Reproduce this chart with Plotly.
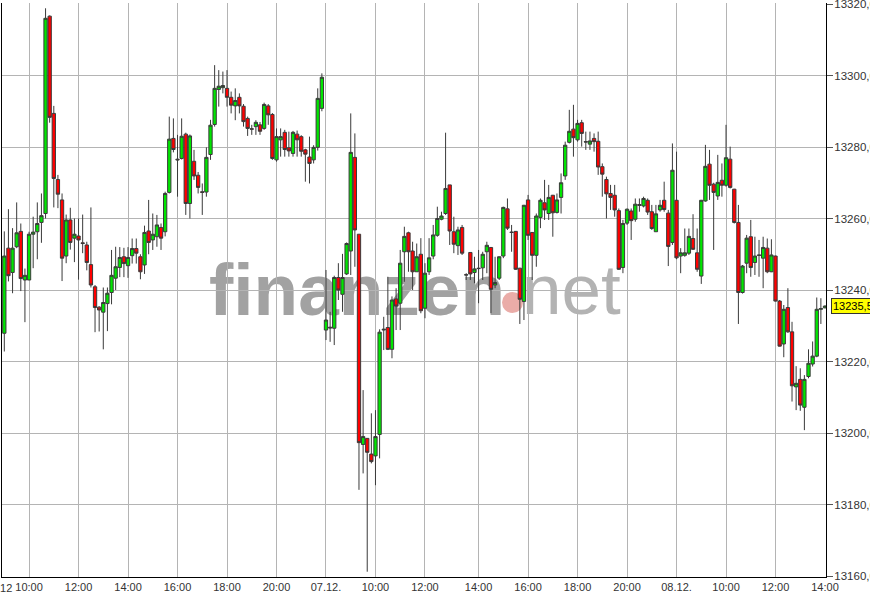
import plotly.graph_objects as go

# ---------------- data (10-minute candles, 06.12. 09:00 -> 08.12. 14:00) ----------------
opens = [
    13227.9, 13251.7, 13244.9, 13252.1, 13256.4, 13242.8, 13242.8, 13255.6, 13256.3, 13258.9,
    13261.4, 13316.6, 13289.4, 13270.9, 13265.2, 13249.5, 13259.6, 13254.5, 13255.1, 13253.2,
    13252.6, 13247.1, 13240.9, 13235.2, 13233.8, 13236.2, 13239.3, 13243.3, 13246.3, 13249.3,
    13246.8, 13249.6, 13251.6, 13249.3, 13247.0, 13256.5, 13254.0, 13254.9, 13257.5, 13256.3,
    13267.3, 13282.4, 13276.6, 13276.8, 13283.6, 13264.2, 13276.0, 13272.1, 13267.5, 13267.4,
    13277.9, 13286.3, 13296.1, 13296.6, 13296.4, 13293.9, 13291.5, 13293.9, 13291.4, 13288.0,
    13285.1, 13285.7, 13286.2, 13285.2, 13291.5, 13289.1, 13276.4, 13282.0, 13284.1, 13279.8,
    13278.2, 13283.6, 13282.9, 13279.2, 13277.2, 13276.4, 13279.9, 13290.8,
    13228.8, 13229.6, 13229.3, 13243.5, 13238.8, 13244.5, 13250.9, 13277.1, 13255.6, 13196.8,
    13198.5, 13194.1, 13193.6, 13199.6, 13228.8, 13229.5, 13223.4, 13237.5, 13236.3, 13250.7,
    13256.0, 13250.9, 13245.1, 13250.0, 13234.9, 13245.1, 13249.5, 13255.3, 13259.8, 13261.4,
    13269.4, 13256.3, 13252.4, 13257.5, 13244.3, 13250.5, 13244.9, 13246.1, 13246.2, 13250.7,
    13251.9, 13241.4, 13243.3, 13249.5, 13262.7, 13256.2, 13256.4, 13246.1, 13236.8, 13265.2,
    13256.1, 13249.7, 13260.3, 13264.4, 13261.4, 13266.5, 13261.7, 13265.9, 13271.9, 13281.3,
    13285.0, 13282.0, 13286.8, 13281.5, 13280.8, 13282.4, 13281.6, 13274.5, 13270.9, 13267.0,
    13266.5, 13262.2, 13246.3, 13258.7, 13262.1, 13259.8, 13263.9, 13263.5, 13265.1, 13261.9,
    13256.3, 13262.4, 13265.1, 13261.5,
    13253.3, 13265.1, 13249.5, 13249.7, 13250.3, 13254.4, 13250.4, 13243.9, 13264.9, 13275.2,
    13269.6, 13266.3, 13270.7, 13269.3, 13276.6, 13268.2, 13258.9, 13239.3, 13247.5, 13254.9,
    13247.7, 13249.8, 13248.9, 13251.7, 13245.1, 13249.5, 13236.9, 13224.9, 13235.1, 13228.3,
    13212.9, 13215.0, 13207.2, 13215.8, 13219.3, 13221.5, 13234.6, 13235.0,
]
highs = [
    13256.4, 13262.6, 13257.3, 13264.5, 13258.6, 13246.0, 13256.3, 13260.5, 13264.5, 13267.0,
    13318.8, 13316.8, 13291.5, 13272.2, 13267.0, 13261.1, 13263.0, 13260.0, 13260.0, 13261.1,
    13253.5, 13263.1, 13241.4, 13235.5, 13240.7, 13240.7, 13251.2, 13252.1, 13252.0, 13251.8,
    13252.0, 13254.4, 13254.4, 13250.0, 13258.0, 13265.2, 13261.4, 13261.0, 13258.6, 13267.5,
    13288.5, 13288.0, 13283.4, 13288.0, 13284.0, 13283.5, 13279.2, 13273.0, 13269.8, 13279.9,
    13287.6, 13302.9, 13301.5, 13301.1, 13301.5, 13295.5, 13296.4, 13295.0, 13292.0, 13288.5,
    13286.2, 13287.5, 13287.0, 13292.4, 13292.0, 13289.5, 13285.2, 13285.2, 13284.8, 13284.3,
    13284.5, 13284.6, 13283.3, 13279.5, 13282.9, 13280.5, 13296.4, 13300.6,
    13245.6, 13233.9, 13244.0, 13247.5, 13250.1, 13253.3, 13289.4, 13283.8, 13255.6, 13212.0,
    13198.5, 13205.5, 13206.4, 13229.0, 13232.5, 13243.7, 13238.2, 13240.5, 13251.2, 13257.7,
    13256.3, 13253.5, 13253.0, 13254.5, 13247.5, 13254.5, 13258.2, 13263.3, 13261.9, 13284.0,
    13269.4, 13260.5, 13257.7, 13258.2, 13244.7, 13250.6, 13249.3, 13251.2, 13250.7, 13253.5,
    13252.0, 13249.3, 13249.4, 13263.3, 13265.6, 13258.2, 13256.5, 13246.2, 13263.8, 13266.6,
    13256.2, 13261.4, 13265.6, 13270.8, 13269.4, 13266.6, 13267.0, 13272.6, 13281.5, 13290.4,
    13291.8, 13287.6, 13287.6, 13284.3, 13284.3, 13283.8, 13284.3, 13275.4, 13271.7, 13269.4,
    13269.4, 13262.8, 13259.6, 13262.8, 13262.8, 13265.6, 13265.6, 13266.1, 13265.6, 13263.8,
    13263.8, 13265.2, 13270.3, 13262.4,
    13281.0, 13278.7, 13251.7, 13257.2, 13257.2, 13261.2, 13257.2, 13265.2, 13280.6, 13279.2,
    13270.0, 13277.8, 13275.4, 13286.2, 13280.1, 13268.3, 13263.8, 13247.0, 13255.4, 13259.6,
    13254.9, 13254.0, 13254.9, 13254.4, 13254.2, 13249.6, 13237.2, 13235.8, 13240.5, 13231.1,
    13218.7, 13218.1, 13216.2, 13223.4, 13225.6, 13237.9, 13237.7, 13235.7,
]
lows = [
    13222.8, 13242.4, 13239.1, 13251.7, 13239.7, 13231.0, 13242.8, 13246.1, 13248.6, 13253.2,
    13260.0, 13286.8, 13263.1, 13262.9, 13242.5, 13247.5, 13251.3, 13247.8, 13242.9, 13250.3,
    13245.5, 13240.7, 13228.2, 13228.4, 13223.4, 13228.5, 13236.0, 13240.0, 13243.6, 13243.6,
    13243.4, 13247.4, 13247.4, 13243.0, 13244.5, 13250.0, 13251.2, 13252.1, 13251.2, 13255.0,
    13267.0, 13278.5, 13266.1, 13276.5, 13261.0, 13260.0, 13270.8, 13267.0, 13261.0, 13266.1,
    13276.4, 13285.7, 13291.3, 13295.0, 13291.3, 13289.4, 13287.5, 13289.4, 13285.7, 13283.1,
    13283.4, 13283.4, 13283.4, 13284.8, 13286.2, 13276.4, 13275.9, 13277.3, 13277.3, 13277.3,
    13277.3, 13277.3, 13277.3, 13270.3, 13269.8, 13275.4, 13279.0, 13290.0,
    13226.0, 13225.5, 13224.6, 13237.2, 13233.9, 13244.2, 13244.2, 13246.5, 13184.1, 13188.7,
    13161.2, 13191.5, 13185.4, 13192.9, 13223.2, 13223.2, 13220.9, 13228.8, 13228.8, 13242.3,
    13245.1, 13240.0, 13245.1, 13233.5, 13232.1, 13244.2, 13248.6, 13254.9, 13259.5, 13261.0,
    13252.6, 13250.3, 13249.8, 13249.8, 13242.8, 13242.8, 13241.9, 13236.3, 13242.8, 13244.7,
    13233.5, 13240.5, 13242.8, 13248.9, 13256.8, 13250.7, 13245.6, 13230.5, 13231.6, 13254.0,
    13242.8, 13246.5, 13257.3, 13259.6, 13259.6, 13254.9, 13261.4, 13261.4, 13270.8, 13281.0,
    13277.3, 13281.5, 13280.1, 13279.2, 13279.2, 13278.7, 13272.2, 13266.1, 13260.0, 13262.4,
    13260.5, 13245.6, 13244.7, 13258.2, 13254.0, 13259.1, 13261.9, 13263.1, 13261.0, 13256.8,
    13256.3, 13261.9, 13261.9, 13246.7,
    13252.6, 13248.6, 13244.7, 13249.3, 13249.8, 13251.2, 13245.1, 13241.7, 13264.7, 13265.2,
    13251.2, 13265.2, 13266.1, 13268.9, 13268.4, 13258.6, 13230.5, 13239.0, 13244.7, 13243.7,
    13244.2, 13243.7, 13240.5, 13244.7, 13245.0, 13236.8, 13224.2, 13221.2, 13228.0, 13208.8,
    13206.4, 13206.2, 13200.8, 13215.3, 13218.6, 13221.2, 13230.5, 13234.9,
]
closes = [
    13249.5, 13244.0, 13251.7, 13256.0, 13243.2, 13244.1, 13255.6, 13256.2, 13258.6, 13260.8,
    13316.0, 13288.3, 13271.2, 13266.8, 13248.9, 13259.6, 13253.3, 13255.6, 13254.0, 13253.0,
    13247.7, 13241.4, 13235.1, 13234.4, 13236.5, 13239.1, 13244.1, 13246.5, 13249.1, 13247.4,
    13249.1, 13251.6, 13250.3, 13245.1, 13256.1, 13253.3, 13255.6, 13258.2, 13254.5, 13267.0,
    13282.2, 13279.3, 13276.4, 13283.0, 13264.2, 13283.1, 13271.9, 13268.7, 13267.3, 13277.1,
    13286.1, 13296.4, 13297.0, 13297.2, 13293.9, 13291.7, 13293.0, 13291.5, 13287.1, 13285.2,
    13285.0, 13286.9, 13284.4, 13291.9, 13289.0, 13276.8, 13282.9, 13282.9, 13279.3, 13278.9,
    13284.1, 13282.0, 13278.8, 13278.0, 13275.4, 13279.9, 13293.6, 13299.5,
    13231.6, 13229.4, 13243.5, 13240.0, 13243.5, 13253.0, 13278.5, 13256.8, 13197.3, 13199.0,
    13194.6, 13192.0, 13199.0, 13228.2, 13229.0, 13223.4, 13237.2, 13235.5, 13247.5, 13255.0,
    13250.7, 13245.1, 13249.3, 13234.2, 13244.7, 13249.0, 13255.4, 13260.0, 13260.7, 13268.4,
    13256.5, 13252.8, 13256.8, 13250.3, 13244.2, 13244.5, 13245.9, 13246.0, 13250.0, 13252.5,
    13240.2, 13242.1, 13249.3, 13263.1, 13257.3, 13256.1, 13245.8, 13237.4, 13263.7, 13255.3,
    13249.7, 13260.7, 13265.1, 13262.4, 13265.9, 13261.6, 13265.2, 13270.0, 13280.5, 13284.4,
    13282.6, 13286.6, 13283.8, 13281.4, 13281.7, 13281.5, 13274.4, 13272.4, 13266.9, 13265.9,
    13262.4, 13245.8, 13258.6, 13262.6, 13259.4, 13264.0, 13263.7, 13265.6, 13261.8, 13257.2,
    13261.3, 13263.7, 13262.5, 13252.2,
    13273.5, 13249.0, 13250.4, 13250.4, 13255.0, 13251.4, 13245.8, 13265.1, 13274.6, 13269.3,
    13267.3, 13270.1, 13269.3, 13277.0, 13268.7, 13258.9, 13239.3, 13246.7, 13254.5, 13246.3,
    13249.5, 13249.7, 13251.9, 13245.1, 13249.8, 13236.9, 13224.3, 13234.6, 13228.3, 13213.2,
    13213.9, 13207.8, 13215.0, 13219.5, 13221.5, 13234.6, 13234.8, 13235.5,
]

# x-axis labels (candle index at which each label sits)
x_tick_pos = [6, 18, 30, 42, 54, 66, 78, 90, 102, 115, 127, 139, 151, 163, 175, 187, 199]
x_tick_text = ["10:00", "12:00", "14:00", "16:00", "18:00", "20:00", "07.12.",
               "10:00", "12:00", "14:00", "16:00", "18:00", "20:00", "08.12.",
               "10:00", "12:00", "14:00"]
first_day_label = ".12"
y_tick_vals = [13160, 13180, 13200, 13220, 13240, 13260, 13280, 13300, 13320]
y_tick_text = [f"{v},0" for v in y_tick_vals]
last_price = 13235.5
last_price_text = "13235,5"

# ---------------- styling ----------------
GREEN = "#00e600"
RED = "#ff0000"
EDGE = "#3a3a3a"
GRID = "#b4b4b4"
FONT = "Liberation Sans, Arial, sans-serif"

n = len(opens)
fig = go.Figure(go.Candlestick(
    x=list(range(n)), open=opens, high=highs, low=lows, close=closes,
    increasing=dict(fillcolor=GREEN, line=dict(color=EDGE, width=1)),
    decreasing=dict(fillcolor=RED, line=dict(color=EDGE, width=1)),
    whiskerwidth=0, showlegend=False, hoverinfo="skip",
))

# plot area pixels: x 2..826, y 3..577
def px(x):
    return (x - 2) / 824.0

def py(y):
    return (577 - y) / 574.0

wm_font = "Liberation Sans, Arial, sans-serif"
shapes = [
    dict(type="rect", xref="paper", yref="paper", layer="below",
         x0=px(206), x1=px(505), y0=py(320), y1=py(245),
         line=dict(width=0), fillcolor="rgba(0,0,0,0)",
         label=dict(text="<b>finanzen</b>", textposition="middle left", padding=0,
                    font=dict(family=wm_font, size=73, color="#a2a2a2", weight="bold"))),
    dict(type="circle", xref="paper", yref="paper", layer="below",
         x0=px(502), x1=px(523), y0=py(313), y1=py(292),
         line=dict(width=0), fillcolor="#eaaca8"),
    dict(type="rect", xref="paper", yref="paper", layer="below",
         x0=px(519), x1=px(640), y0=py(320), y1=py(245),
         line=dict(width=0), fillcolor="rgba(0,0,0,0)",
         label=dict(text="net", textposition="middle left", padding=0,
                    font=dict(family=wm_font, size=71, color="#b3b3b3"))),
]

annotations = [
    dict(xref="paper", yref="paper", x=px(14), y=0, xanchor="right", yanchor="top",
         yshift=-3, text=first_day_label, showarrow=False,
         font=dict(family=FONT, size=11, color="#333333")),
    dict(xref="paper", yref="y", x=1, y=last_price, xanchor="left", yanchor="middle",
         xshift=5, text=last_price_text, showarrow=False, bgcolor="#ffff00",
         bordercolor="#333333", borderwidth=1, borderpad=1,
         font=dict(family=FONT, size=11, color="#000000")),
]

fig.update_layout(
    width=870, height=600,
    margin=dict(l=2, r=44, t=3, b=23, autoexpand=False),
    paper_bgcolor="white", plot_bgcolor="rgba(0,0,0,0)",
    boxgap=0.2, boxgroupgap=0,
    showlegend=False,
    shapes=shapes, annotations=annotations,
    xaxis=dict(
        range=[-0.56, 199.24], tickmode="array", tickvals=x_tick_pos, ticktext=x_tick_text,
        showgrid=True, gridcolor=GRID, gridwidth=1, zeroline=False,
        showline=True, linecolor="black", linewidth=1, ticks="",
        tickfont=dict(family=FONT, size=11, color="#333333"),
        rangeslider=dict(visible=False), fixedrange=True,
    ),
    yaxis=dict(
        side="right", range=[13159.72, 13320.28], tickmode="array",
        tickvals=y_tick_vals, ticktext=y_tick_text,
        showgrid=True, gridcolor=GRID, gridwidth=1, zeroline=False,
        showline=True, linecolor="black", linewidth=1, mirror=True,
        ticks="outside", ticklen=6, tickcolor="#555555", ticklabelstandoff=-1,
        ticklabeloverflow="allow",
        tickfont=dict(family=FONT, size=11.5, color="#333333"), fixedrange=True,
    ),
)

fig.write_html(
    "out.html",
    config={"displayModeBar": False, "staticPlot": True},
    post_script="document.body.style.margin='0';document.body.style.overflow='hidden';",
)
